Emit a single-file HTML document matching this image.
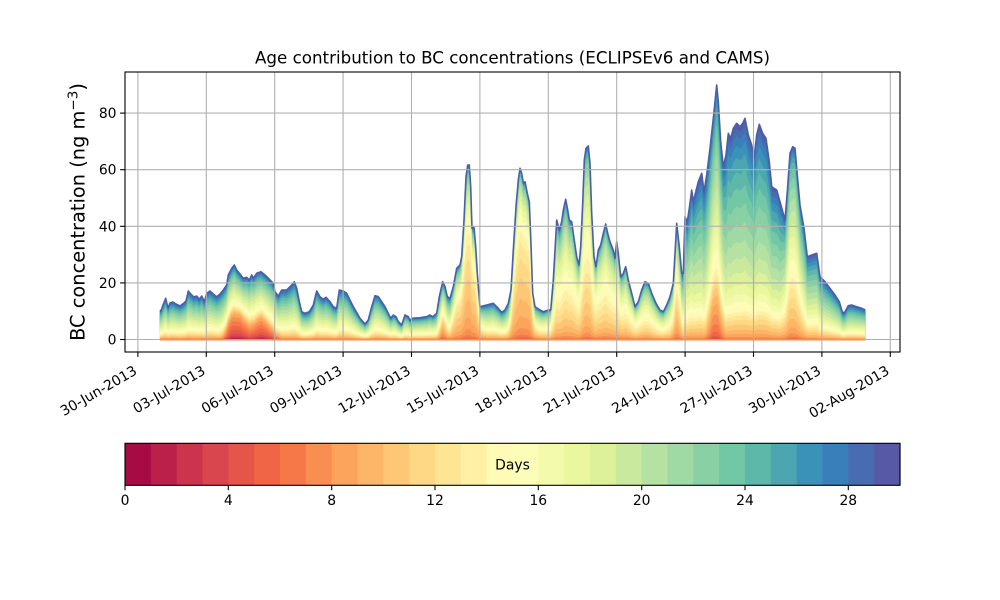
<!DOCTYPE html>
<html><head><meta charset="utf-8">
<style>
html,body{margin:0;padding:0;background:#fff;}
svg{display:block;}
text{font-family:"DejaVu Sans","Liberation Sans",sans-serif;fill:#000;}
</style></head>
<body>
<svg id="s" width="1000" height="600" viewBox="0 0 1000 600" xmlns="http://www.w3.org/2000/svg">
<rect x="0" y="0" width="1000" height="600" fill="#fff"/>
<g id="fills"></g>
<path id="env" fill="none" stroke="#4b5fa8" stroke-width="1.6" stroke-linejoin="round"/>
<g stroke="#b0b0b0" stroke-width="1.1">
<line x1="137.9" y1="72" x2="137.9" y2="352"/>
<line x1="206.3" y1="72" x2="206.3" y2="352"/>
<line x1="274.7" y1="72" x2="274.7" y2="352"/>
<line x1="343.1" y1="72" x2="343.1" y2="352"/>
<line x1="411.5" y1="72" x2="411.5" y2="352"/>
<line x1="479.9" y1="72" x2="479.9" y2="352"/>
<line x1="548.3" y1="72" x2="548.3" y2="352"/>
<line x1="616.7" y1="72" x2="616.7" y2="352"/>
<line x1="685.1" y1="72" x2="685.1" y2="352"/>
<line x1="753.5" y1="72" x2="753.5" y2="352"/>
<line x1="821.9" y1="72" x2="821.9" y2="352"/>
<line x1="890.3" y1="72" x2="890.3" y2="352"/>
<line x1="125" y1="339.5" x2="900" y2="339.5"/>
<line x1="125" y1="282.9" x2="900" y2="282.9"/>
<line x1="125" y1="226.3" x2="900" y2="226.3"/>
<line x1="125" y1="169.7" x2="900" y2="169.7"/>
<line x1="125" y1="113.1" x2="900" y2="113.1"/>
</g>
<line x1="160" y1="340" x2="865.3" y2="340" stroke="#f3894f" stroke-width="1"/>
<rect x="125" y="72" width="775" height="280" fill="none" stroke="#000" stroke-width="1.1"/>
<g stroke="#000" stroke-width="1.1">
<line x1="120.1" y1="339.5" x2="125" y2="339.5"/>
<line x1="120.1" y1="282.9" x2="125" y2="282.9"/>
<line x1="120.1" y1="226.3" x2="125" y2="226.3"/>
<line x1="120.1" y1="169.7" x2="125" y2="169.7"/>
<line x1="120.1" y1="113.1" x2="125" y2="113.1"/>
<line x1="137.9" y1="352" x2="137.9" y2="356.9"/>
<line x1="206.3" y1="352" x2="206.3" y2="356.9"/>
<line x1="274.7" y1="352" x2="274.7" y2="356.9"/>
<line x1="343.1" y1="352" x2="343.1" y2="356.9"/>
<line x1="411.5" y1="352" x2="411.5" y2="356.9"/>
<line x1="479.9" y1="352" x2="479.9" y2="356.9"/>
<line x1="548.3" y1="352" x2="548.3" y2="356.9"/>
<line x1="616.7" y1="352" x2="616.7" y2="356.9"/>
<line x1="685.1" y1="352" x2="685.1" y2="356.9"/>
<line x1="753.5" y1="352" x2="753.5" y2="356.9"/>
<line x1="821.9" y1="352" x2="821.9" y2="356.9"/>
<line x1="890.3" y1="352" x2="890.3" y2="356.9"/>
</g>
<g font-size="13.9" text-anchor="end">
<text x="116.5" y="344.5">0</text>
<text x="116.5" y="287.9">20</text>
<text x="116.5" y="231.3">40</text>
<text x="116.5" y="174.7">60</text>
<text x="116.5" y="118.1">80</text>
</g>
<g font-size="13.9" text-anchor="end">
<text x="137.9" y="373.5" transform="rotate(-30 137.9 373.5)">30-Jun-2013</text>
<text x="206.3" y="373.5" transform="rotate(-30 206.3 373.5)">03-Jul-2013</text>
<text x="274.7" y="373.5" transform="rotate(-30 274.7 373.5)">06-Jul-2013</text>
<text x="343.1" y="373.5" transform="rotate(-30 343.1 373.5)">09-Jul-2013</text>
<text x="411.5" y="373.5" transform="rotate(-30 411.5 373.5)">12-Jul-2013</text>
<text x="479.9" y="373.5" transform="rotate(-30 479.9 373.5)">15-Jul-2013</text>
<text x="548.3" y="373.5" transform="rotate(-30 548.3 373.5)">18-Jul-2013</text>
<text x="616.7" y="373.5" transform="rotate(-30 616.7 373.5)">21-Jul-2013</text>
<text x="685.1" y="373.5" transform="rotate(-30 685.1 373.5)">24-Jul-2013</text>
<text x="753.5" y="373.5" transform="rotate(-30 753.5 373.5)">27-Jul-2013</text>
<text x="821.9" y="373.5" transform="rotate(-30 821.9 373.5)">30-Jul-2013</text>
<text x="890.3" y="373.5" transform="rotate(-30 890.3 373.5)">02-Aug-2013</text>
</g>
<text x="512.5" y="63.5" font-size="16.7" text-anchor="middle">Age contribution to BC concentrations (ECLIPSEv6 and CAMS)</text>
<text x="84.5" y="212" font-size="19.4" text-anchor="middle" transform="rotate(-90 84.5 212)">BC concentration (ng m<tspan dy="-7" font-size="13.5">−3</tspan><tspan dy="7">)</tspan></text>
<g id="cbar"></g>
<rect x="125" y="443.3" width="775" height="42" fill="none" stroke="#000" stroke-width="1.1"/>
<g stroke="#000" stroke-width="1.1">
<line x1="125" y1="485.3" x2="125" y2="490.2"/>
<line x1="228.3" y1="485.3" x2="228.3" y2="490.2"/>
<line x1="331.7" y1="485.3" x2="331.7" y2="490.2"/>
<line x1="435" y1="485.3" x2="435" y2="490.2"/>
<line x1="538.3" y1="485.3" x2="538.3" y2="490.2"/>
<line x1="641.7" y1="485.3" x2="641.7" y2="490.2"/>
<line x1="745" y1="485.3" x2="745" y2="490.2"/>
<line x1="848.3" y1="485.3" x2="848.3" y2="490.2"/>
</g>
<g font-size="13.9" text-anchor="middle">
<text x="125" y="505">0</text>
<text x="228.3" y="505">4</text>
<text x="331.7" y="505">8</text>
<text x="435" y="505">12</text>
<text x="538.3" y="505">16</text>
<text x="641.7" y="505">20</text>
<text x="745" y="505">24</text>
<text x="848.3" y="505">28</text>
<text x="512.5" y="469.5">Days</text>
</g>
</svg>
<script>
(function(){
var NS="http://www.w3.org/2000/svg";
var P=[[160,310],[161,311],[163,305],[165.7,298.3],[168,308],[170,303],[173,302],[176,304],[180,306],[184,303],[186,301],[188.3,291],[191.7,295],[194,297],[196.7,296],[199.3,299.3],[201.7,296],[204.3,301.7],[206.7,293.3],[210,291],[213.3,294],[216.7,296.7],[220,294],[223.3,290],[226.7,285],[228.3,275],[231.7,268.3],[234.3,265],[236.7,270],[240,274],[243.3,278.3],[246.7,277.3],[249.3,280],[251.7,275],[253.3,278.3],[256.7,273.3],[261,271.7],[265,275],[270,280],[273.3,283.3],[275,291.7],[278.3,296],[281.7,290],[286.7,290],[291.7,285],[294.3,281.7],[296.7,288.3],[299,300],[301.7,311.7],[305,313.3],[309.3,311.7],[313.3,305],[316.7,291],[320,296.7],[323.3,299.3],[326,297.3],[330,301.7],[333.3,306.7],[336.7,308.3],[339.3,290],[343.3,291],[346.7,293.3],[353.3,306.7],[360,318.3],[365,324],[368.3,320],[371.7,306.7],[375,295.7],[378.3,296.7],[381.7,301.7],[385,306.7],[388.3,313.3],[390.7,318.3],[393.3,315],[396,316.7],[398.3,321.7],[401.7,325],[405,315],[408.3,316.7],[410,320.7],[411.7,318.3],[420,317.7],[426.7,316.7],[430,315],[432.7,316.7],[436.7,313.3],[439.3,296.7],[442.7,281.7],[445,286.7],[447.3,296.7],[450,298.3],[453.3,286.7],[456.7,268.3],[460,265],[461.7,256.7],[464,220],[466,176.7],[467.7,165],[469.3,165],[470.7,186.7],[472,228.3],[474,227.3],[475.7,246.7],[477.3,273.3],[480,306.7],[486.7,305],[493.3,303.3],[496.7,306.7],[501.7,312.3],[505,310],[508.3,303.3],[511,290],[513.3,250],[516,206.7],[518.3,180],[520,168.3],[521.7,173.3],[523.3,183.3],[525,181.7],[527.3,193.3],[529.3,201.7],[530.7,236.7],[532.7,293.3],[535,306.7],[540,310],[543.3,311.7],[548.3,310],[550.7,310],[553.3,280],[556.7,220],[559.3,230],[561.7,221.7],[563.3,210],[565.7,199.3],[567.7,210],[569.3,220],[571.7,221.7],[574,238.3],[576.7,256.7],[579,265],[580.7,246.7],[582.7,203.3],[584.3,160],[586,148.3],[588.3,146],[590,163.3],[591.7,213.3],[594,256.7],[596,266.7],[598.3,250],[600.7,245],[603.3,233.3],[605.7,224],[607.7,233.3],[610,241.7],[613.3,250],[615,258.3],[616.7,241.7],[618.3,253.3],[620.7,276.7],[623.3,273.3],[625.7,266.7],[628.3,280],[631.7,293.3],[635,306.7],[638.3,301.7],[641.7,290],[645,281.7],[648.3,283.3],[651.7,293.3],[656,303.3],[660,310],[663.3,311.7],[666.7,305],[670,296.7],[673.3,283.3],[676.7,223.3],[679.3,246.7],[681.7,273.3],[683.3,273.3],[685,216.7],[687.3,221.7],[689.3,208.3],[691.7,190],[693.3,201.7],[695,195],[698.3,181.7],[701.7,173.3],[704,191.7],[706.7,175],[710,148.3],[713.3,118.3],[716.7,85],[718.3,101.7],[720.7,141.7],[723.3,166.7],[726,155],[728.3,133.3],[730.7,138.3],[733.3,128.3],[736.7,123.3],[740,126.7],[742.7,123.3],[745,118.3],[748.3,135],[751.7,145],[754,158.3],[756.7,135],[759.3,124.3],[762.7,133.3],[766,138.3],[769.3,161.7],[771.7,186.7],[776.7,190],[780,201.7],[785,220],[787.3,191.7],[790,153.3],[792.7,146.7],[795,148.3],[797.3,175],[800,205],[804,228.3],[807.3,256.7],[811.7,255],[816.7,253.3],[820,276.7],[825,281.7],[830,288.3],[835,295],[839.3,301.7],[842.7,313.3],[845,311.7],[848.3,305.7],[851.7,305],[856.7,306.7],[861.7,308.3],[865.3,310]];
// [x, oldMean, sdLow, sdHigh, youngFrac, youngMean, youngSd]
var K=[
[160,20,5,6,0.08,10,2],
[222,20,5,6,0.08,10,2],
[230,19,5,6,0.35,6,2.5],
[240,19,5,6,0.4,6,2.5],
[250,19,5,6,0.25,7,2.5],
[262,19,5,6,0.35,6,2.5],
[272,19,5,6,0.2,7,2.5],
[282,20,5,6,0.08,10,2],
[438,19,5,6,0.06,10,2],
[443,18,5,6,0.3,9,2],
[449,19,5,6,0.08,10,2],
[456,17,4,6,0.4,10.5,2],
[467,16,4,6,0.5,10.5,2],
[476,16,4,6,0.5,10.5,2],
[482,19,5,6,0.1,10,2],
[508,19,5,6,0.1,10,2],
[514,16,4,6,0.45,10.5,2],
[521,15,4,6,0.5,10.5,2],
[530,15,4,6,0.5,10.5,2],
[536,18,5,6,0.12,10,2],
[550,17,4,6,0.15,10.5,2],
[556,16,3.5,6,0.15,10.5,2],
[586,15,3.5,6,0.2,10.5,2],
[600,15,3.5,6,0.15,10.5,2],
[640,16,4,6,0.12,10.5,2],
[670,17,4,6,0.12,10.5,2],
[677,16,4,6,0.3,10,2],
[684,21,5,5,0.1,10.5,2],
[705,22,4.5,5,0.1,10.5,2],
[713,20,5,5,0.2,8,2],
[718,20,5,5,0.18,8,2],
[726,22.5,4.5,4.5,0.1,10.5,2],
[760,22.5,4.5,4.5,0.11,10.5,2],
[780,22,4.5,5,0.11,10.5,2],
[790,19,5,5,0.2,10.5,2],
[797,19,5,5,0.18,10.5,2],
[806,21,5,5.5,0.1,10.5,2],
[866,20.5,5,6,0.08,10.5,2]];
var B=339.5,N=30;
function lk(x){
  if(x<=K[0][0])return K[0].slice(1);
  for(var i=1;i<K.length;i++){if(x<=K[i][0]){var a=K[i-1],b=K[i],t=(x-a[0])/(b[0]-a[0]),r=[];for(var j=1;j<a.length;j++)r.push(a[j]+(b[j]-a[j])*t);return r;}}
  return K[K.length-1].slice(1);
}
var st=[[158,1,66],[213,62,79],[244,109,67],[253,174,97],[254,224,139],[255,255,191],[230,245,152],[171,221,164],[102,194,165],[50,136,189],[94,79,162]];
function cmap(t){var s=t*10,i=Math.min(9,Math.floor(s)),f=s-i,a=st[i],b=st[i+1];
  return 'rgb('+Math.round(a[0]+(b[0]-a[0])*f)+','+Math.round(a[1]+(b[1]-a[1])*f)+','+Math.round(a[2]+(b[2]-a[2])*f)+')';}
var cum=P.map(function(p){
  var q=lk(p[0]),om=q[0],sL=q[1],sH=q[2],yf=q[3],ym=q[4],sy_=q[5],go=[],gy=[],so=0,sy=0,k;
  for(k=0;k<N;k++){var a=k+0.5;var sd=a<om?sL:sH;var o=Math.exp(-0.5*Math.pow((a-om)/sd,2));var y=Math.exp(-0.5*Math.pow((a-ym)/sy_,2));go.push(o);gy.push(y);so+=o;sy+=y;}
  var c=0,out=[];for(k=0;k<N;k++){c+=(1-yf)*go[k]/so+yf*gy[k]/sy;out.push(c);}
  return out;
});
var g=document.getElementById('fills');
var x0=P[0][0],x1=P[P.length-1][0];
for(var k=N-1;k>=0;k--){
  var d='M'+x0+' '+B;
  for(var i=0;i<P.length;i++){var h=B-P[i][1];d+=' L'+P[i][0]+' '+(B-h*cum[i][k]).toFixed(2);}
  d+=' L'+x1+' '+B+' Z';
  var el=document.createElementNS(NS,'path');el.setAttribute('d',d);el.setAttribute('fill',cmap((k+0.5)/N));
  el.setAttribute('stroke',cmap((k+0.5)/N));el.setAttribute('stroke-width','0.3');
  g.appendChild(el);
}
var e='M'+P.map(function(p){return p[0]+' '+p[1];}).join(' L');
document.getElementById('env').setAttribute('d',e);
var cb=document.getElementById('cbar');var w=775/30;
for(var j=0;j<30;j++){var r=document.createElementNS(NS,'rect');r.setAttribute('x',(125+j*w).toFixed(2));r.setAttribute('y','443.3');r.setAttribute('width',(w+0.6).toFixed(2));r.setAttribute('height','42');r.setAttribute('fill',cmap((j+0.5)/30));cb.appendChild(r);}
})();
</script>
</body></html>
